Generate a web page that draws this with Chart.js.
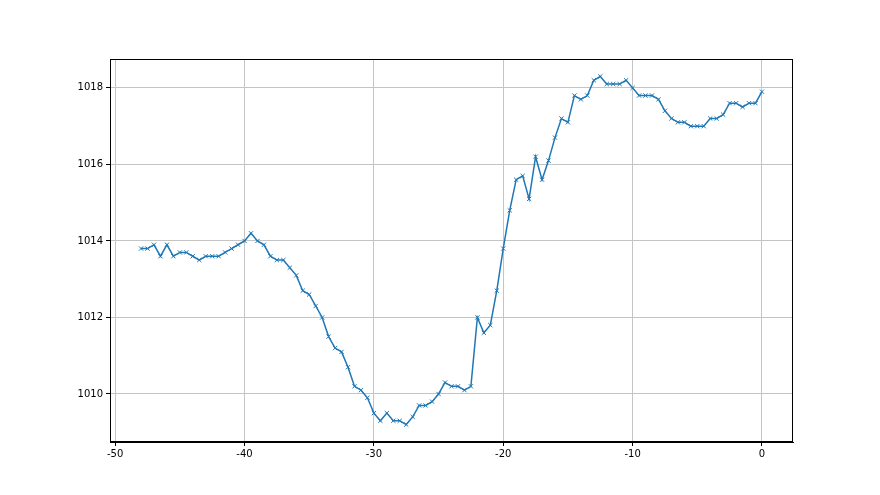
<!DOCTYPE html>
<html>
<head>
<meta charset="utf-8">
<script src="https://cdn.jsdelivr.net/npm/chart.js@4"></script>
<style>
  html, body { margin: 0; padding: 0; background: #fff; }
</style>
</head>
<body>
<canvas id="pressureChart" width="880" height="495"></canvas>
<script>
// hours relative to now, every half hour
const hours = [
  -48, -47.5, -47, -46.5, -46, -45.5, -45, -44.5, -44, -43.5, -43, -42.5, -42, -41.5, -41, -40.5,
  -40, -39.5, -39, -38.5, -38, -37.5, -37, -36.5, -36, -35.5, -35, -34.5, -34, -33.5, -33, -32.5,
  -32, -31.5, -31, -30.5, -30, -29.5, -29, -28.5, -28, -27.5, -27, -26.5, -26, -25.5, -25, -24.5,
  -24, -23.5, -23, -22.5, -22, -21.5, -21, -20.5, -20, -19.5, -19, -18.5, -18, -17.5, -17, -16.5,
  -16, -15.5, -15, -14.5, -14, -13.5, -13, -12.5, -12, -11.5, -11, -10.5, -10, -9.5, -9, -8.5,
  -8, -7.5, -7, -6.5, -6, -5.5, -5, -4.5, -4, -3.5, -3, -2.5, -2, -1.5, -1, -0.5, 0
];

const pressure = [
  1013.8, 1013.8, 1013.9, 1013.6, 1013.9, 1013.6, 1013.7, 1013.7, 1013.6, 1013.5, 1013.6, 1013.6, 1013.6, 1013.7, 1013.8, 1013.9,
  1014.0, 1014.2, 1014.0, 1013.9, 1013.6, 1013.5, 1013.5, 1013.3, 1013.1, 1012.7, 1012.6, 1012.3, 1012.0, 1011.5, 1011.2, 1011.1,
  1010.7, 1010.2, 1010.1, 1009.9, 1009.5, 1009.3, 1009.5, 1009.3, 1009.3, 1009.2, 1009.4, 1009.7, 1009.7, 1009.8, 1010.0, 1010.3,
  1010.2, 1010.2, 1010.1, 1010.2, 1012.0, 1011.6, 1011.8, 1012.7, 1013.8, 1014.8, 1015.6, 1015.7, 1015.1, 1016.2, 1015.6, 1016.1,
  1016.7, 1017.2, 1017.1, 1017.8, 1017.7, 1017.8, 1018.2, 1018.3, 1018.1, 1018.1, 1018.1, 1018.2, 1018.0, 1017.8, 1017.8, 1017.8,
  1017.7, 1017.4, 1017.2, 1017.1, 1017.1, 1017.0, 1017.0, 1017.0, 1017.2, 1017.2, 1017.3, 1017.6, 1017.6, 1017.5, 1017.6, 1017.6,
  1017.9
];

const xTicks = [-50, -40, -30, -20, -10, 0];
const yTicks = [1010, 1012, 1014, 1016, 1018];

// draw the top and right spines too, like matplotlib
const frameBox = {
  id: 'frameBox',
  afterDraw(chart) {
    const { ctx, chartArea: a } = chart;
    ctx.save();
    ctx.strokeStyle = '#000';
    ctx.lineWidth = 1;
    ctx.strokeRect(a.left + 0.5, a.top + 0.5, a.right - a.left - 1, a.bottom - a.top - 1);
    ctx.restore();
  }
};

const tickFont = { family: '"DejaVu Sans", sans-serif', size: 10 };

new Chart(document.getElementById('pressureChart'), {
  type: 'line',
  data: {
    datasets: [{
      data: hours.map((h, i) => ({ x: h, y: pressure[i] })),
      borderColor: '#1f77b4',
      backgroundColor: '#1f77b4',
      borderWidth: 1.5,
      tension: 0,
      pointStyle: 'crossRot',
      pointRadius: 3,
      pointBorderWidth: 1,
      pointHoverRadius: 3
    }]
  },
  options: {
    responsive: false,
    animation: false,
    events: [],
    layout: { padding: { left: 0, right: 87, top: 59, bottom: 33 } },
    plugins: { legend: { display: false }, tooltip: { enabled: false } },
    scales: {
      x: {
        type: 'linear',
        min: -50.4,
        max: 2.4,
        afterBuildTicks: axis => { axis.ticks = xTicks.map(v => ({ value: v })); },
        afterFit: axis => { axis.height = 20; },
        grid: { color: '#c4c4c4', lineWidth: 1, tickColor: '#000', tickLength: 4 },
        border: { color: '#000', width: 1 },
        ticks: { color: '#000', font: tickFont, padding: 2, maxRotation: 0, callback: v => String(v) }
      },
      y: {
        min: 1008.745,
        max: 1018.755,
        afterBuildTicks: axis => { axis.ticks = yTicks.map(v => ({ value: v })); },
        afterFit: axis => { axis.width = 110; },
        grid: { color: '#c4c4c4', lineWidth: 1, tickColor: '#000', tickLength: 4 },
        border: { color: '#000', width: 1 },
        ticks: { color: '#000', font: tickFont, padding: 3, callback: v => String(v) }
      }
    }
  },
  plugins: [frameBox]
});
</script>
</body>
</html>
